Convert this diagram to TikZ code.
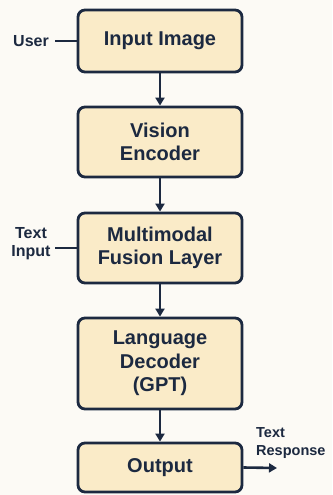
\documentclass[tikz,border=0pt]{standalone}
\usepackage{fontspec}
\setmainfont{Liberation Sans}
\usetikzlibrary{arrows.meta}
\definecolor{bg}{HTML}{FCFAF5}
\definecolor{boxfill}{HTML}{FAEBC8}
\definecolor{navy}{HTML}{1C2940}
\begin{document}
\begin{tikzpicture}[x=1pt,y=-1pt,
  stage/.style={draw=navy, fill=boxfill, line width=2.8pt, rounded corners=7pt,
    minimum width=164pt, inner sep=0pt, align=center, text=navy,
    font=\fontsize{20}{23.5}\selectfont\bfseries},
  side/.style={text=navy, align=center, inner sep=0pt,
    font=\fontsize{16}{18}\selectfont\bfseries},
  conn/.style={draw=navy, line width=2.6pt},
  arr/.style={conn, -{Triangle[length=8pt,width=9pt]}}]
\fill[bg] (0,0) rectangle (332,495);
\useasboundingbox (0,0) rectangle (332,495);
\node[stage, minimum height=62pt] (b1) at (160,41) {Input Image};
\node[stage, minimum height=70pt] (b2) at (160,142) {Vision\\Encoder};
\node[stage, minimum height=70pt] (b3) at (160,248) {Multimodal\\Fusion Layer};
\node[stage, minimum height=91pt] (b4) at (160,363.5) {Language\\Decoder\\(GPT)};
\node[stage, minimum height=49pt] (b5) at (160,467.5) {Output};
\draw[arr] (b1) -- (b2);
\draw[arr] (b2) -- (b3);
\draw[arr] (b3) -- (b4);
\draw[arr] (b4) -- (b5);
\node[side] (user) at (31,41) {User};
\coordinate (uend) at (55,41);
\draw[conn] (uend) -- (b1.west);
\node[side] (tin) at (31,244) {Text\\Input};
\coordinate (tend) at (55,248);
\draw[conn] (tend) -- (b3.west);
\node[side, align=left, anchor=west, font=\fontsize{14.5}{18}\selectfont\bfseries] (tres) at (256,443) {Text\\Response};
\coordinate (rend) at (277,468);
\draw[arr] (b5.east) -- (rend);
\end{tikzpicture}
\end{document}
